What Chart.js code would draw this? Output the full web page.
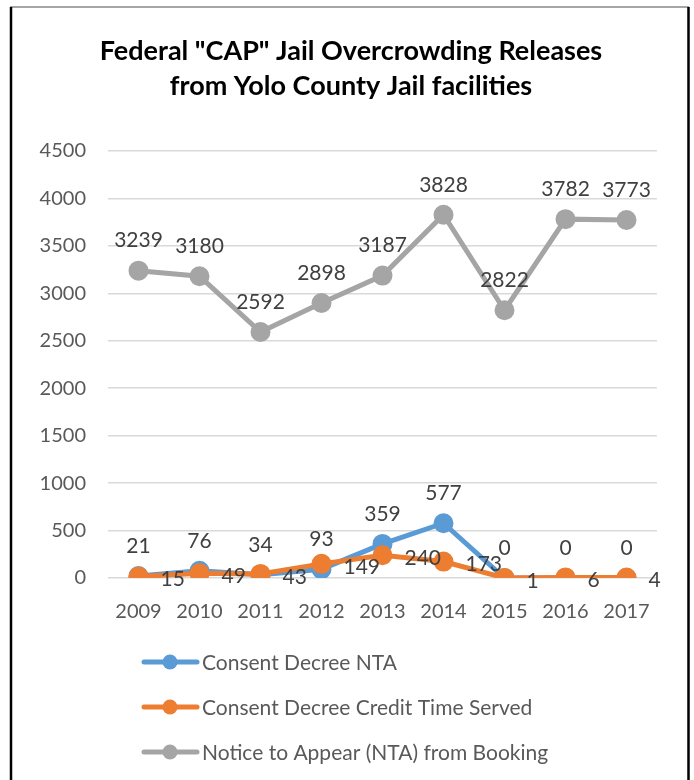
<!DOCTYPE html>
<html>
<head>
<meta charset="utf-8">
<title>Federal CAP Jail Overcrowding Releases</title>
<script src="https://cdn.jsdelivr.net/npm/chart.js@4.4.1/dist/chart.umd.min.js"></script>
<style>
  html, body { margin: 0; padding: 0; background: #fff; }
  #wrap { width: 694px; height: 780px; }
</style>
</head>
<body>
<div id="wrap"><canvas id="chart" width="694" height="780"></canvas></div>
<script>
// data
const years = ['2009', '2010', '2011', '2012', '2013', '2014', '2015', '2016', '2017'];
const consentNta = [21, 76, 34, 93, 359, 577, 0, 0, 0];
const creditTimeServed = [15, 49, 43, 149, 240, 173, 1, 6, 4];
const ntaBooking = [3239, 3180, 2592, 2898, 3187, 3828, 2822, 3782, 3773];
const seriesNames = ['Consent Decree NTA', 'Consent Decree Credit Time Served', 'Notice to Appear (NTA) from Booking'];
const titleLines = ['Federal "CAP" Jail Overcrowding Releases', 'from Yolo County Jail facilities'];

const FONT = 'Lato, "Liberation Sans", sans-serif';
const colors = ['#5B9BD5', '#ED7D31', '#A5A5A5'];

function makeSet(i, data, order, labelPos) {
  return {
    label: seriesNames[i],
    data: data,
    borderColor: colors[i],
    backgroundColor: colors[i],
    pointBackgroundColor: colors[i],
    pointBorderColor: colors[i],
    borderWidth: 5,
    pointRadius: 7.5,
    pointHoverRadius: 7.5,
    tension: 0,
    order: order,
    labelPos: labelPos
  };
}

// value labels, title, legend and frame
const decorations = {
  id: 'decorations',
  afterDatasetsDraw(chart) {
    const ctx = chart.ctx;
    ctx.save();
    ctx.font = '21px ' + FONT;
    ctx.fillStyle = '#404040';
    chart.data.datasets.forEach((ds, i) => {
      const meta = chart.getDatasetMeta(i);
      meta.data.forEach((pt, j) => {
        const txt = String(ds.data[j]);
        ctx.textBaseline = 'middle';
        if (ds.labelPos === 'right') {
          ctx.textAlign = 'left';
          ctx.fillText(txt, pt.x + 22, pt.y + 3);
        } else {
          ctx.textAlign = 'center';
          ctx.fillText(txt, pt.x, pt.y - 30);
        }
      });
    });
    ctx.restore();
  },
  afterDraw(chart) {
    const ctx = chart.ctx;
    ctx.save();
    // title
    ctx.fillStyle = '#000';
    ctx.font = 'bold 27px ' + FONT;
    ctx.textAlign = 'center';
    ctx.textBaseline = 'middle';
    ctx.fillText(titleLines[0], 351, 51);
    ctx.fillText(titleLines[1], 351, 86);

    // legend, one entry per row
    ctx.font = '21px ' + FONT;
    ctx.textAlign = 'left';
    chart.data.datasets.forEach((ds, i) => {
      const y = 662 + i * 45;
      ctx.strokeStyle = ds.borderColor;
      ctx.lineWidth = 5;
      ctx.lineCap = 'round';
      ctx.beginPath();
      ctx.moveTo(144, y);
      ctx.lineTo(197, y);
      ctx.stroke();
      ctx.fillStyle = ds.borderColor;
      ctx.beginPath();
      ctx.arc(170, y, 7.5, 0, Math.PI * 2);
      ctx.fill();
      ctx.fillStyle = '#595959';
      ctx.fillText(ds.label, 202, y + 1);
    });

    // frame
    ctx.lineCap = 'butt';
    ctx.strokeStyle = '#888';
    ctx.lineWidth = 1.5;
    ctx.beginPath();
    ctx.moveTo(10, 7);
    ctx.lineTo(689, 7);
    ctx.stroke();
    ctx.strokeStyle = '#000';
    ctx.lineWidth = 2.5;
    ctx.beginPath();
    ctx.moveTo(11, 7);
    ctx.lineTo(11, 780);
    ctx.moveTo(688.5, 7);
    ctx.lineTo(688.5, 780);
    ctx.stroke();
    ctx.restore();
  }
};

new Chart(document.getElementById('chart'), {
  type: 'line',
  data: {
    labels: years,
    datasets: [
      makeSet(0, consentNta, 1, 'above'),
      makeSet(1, creditTimeServed, 0, 'right'),
      makeSet(2, ntaBooking, 2, 'above')
    ]
  },
  options: {
    responsive: false,
    animation: false,
    layout: { padding: { left: 0, right: 37, top: 151, bottom: 157 } },
    plugins: {
      legend: { display: false },
      title: { display: false },
      tooltip: { enabled: false }
    },
    scales: {
      x: {
        offset: true,
        grid: { display: false },
        border: { display: false },
        ticks: { color: '#595959', font: { family: FONT, size: 20 }, padding: 14, maxRotation: 0 },
        afterFit(scale) { scale.height = 45; }
      },
      y: {
        min: 0,
        max: 4500,
        ticks: {
          stepSize: 500,
          color: '#595959',
          font: { family: FONT, size: 20 },
          padding: 22,
          callback: (v) => String(v)
        },
        grid: { color: '#D9D9D9', lineWidth: 1.5, drawTicks: false },
        border: { display: false },
        afterFit(scale) { scale.width = 108; }
      }
    }
  },
  plugins: [decorations]
});
</script>
</body>
</html>
